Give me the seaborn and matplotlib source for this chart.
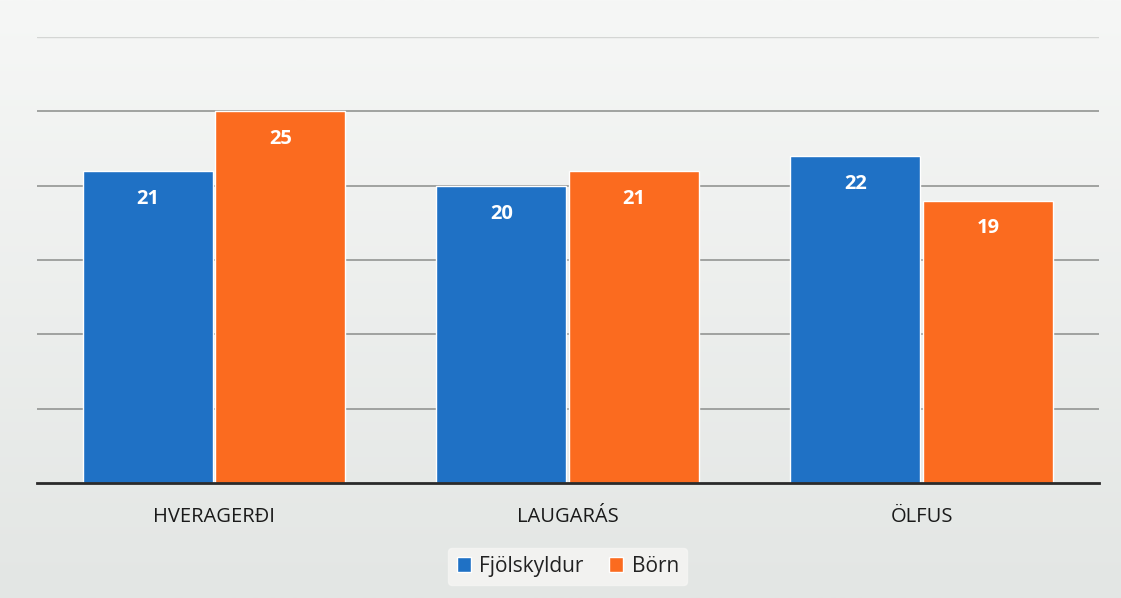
import matplotlib
matplotlib.use("Agg")
import matplotlib.pyplot as plt
import seaborn as sns
import pandas as pd
import numpy as np
from matplotlib.colors import LinearSegmentedColormap

categories = ["HVERAGERÐI", "LAUGARÁS", "ÖLFUS"]
series_names = ["Fjölskyldur", "Börn"]
fjolskyldur = [21, 20, 22]
born = [25, 21, 19]
colors = ["#1f71c5", "#fb6b1f"]

df = pd.DataFrame({
    "Svæði": categories * 2,
    "Hópur": [series_names[0]] * 3 + [series_names[1]] * 3,
    "Fjöldi": fjolskyldur + born,
})

sns.set_theme(style="white")
plt.rcParams["font.family"] = ["Open Sans", "DejaVu Sans"]

fig = plt.figure(figsize=(11.21, 5.98), dpi=100, facecolor="#eaedeb")
ax = fig.add_axes([0.033, 0.192, 0.947, 0.746])
ax.set_facecolor("none")

# subtle background gradient (lighter at top)
bg = fig.add_axes([0, 0, 1, 1], zorder=-10)
grad = np.linspace(1, 0, 256).reshape(-1, 1)
cmap = LinearSegmentedColormap.from_list("bg", ["#e3e6e4", "#f6f7f6"])
bg.imshow(grad, aspect="auto", cmap=cmap, extent=[0, 1, 0, 1])
bg.axis("off")

sns.barplot(data=df, x="Svæði", y="Fjöldi", hue="Hópur", palette=colors,
            width=0.75, gap=0.02, ax=ax, saturation=1, legend=True)

ax.set_ylim(0, 30)
ax.set_xlim(-0.5, 2.5)
ax.set_yticks([5, 10, 15, 20, 25])
ax.yaxis.grid(True, color="#9a9c9a", linewidth=1.3)
ax.axhline(30, color="#d4d6d4", linewidth=1.0, zorder=0)
ax.set_axisbelow(True)
ax.tick_params(axis="y", left=False, labelleft=False)
ax.tick_params(axis="x", bottom=False, labelsize=14.5, pad=11, colors="#1a1a1a")
for s in ["top", "right", "left"]:
    ax.spines[s].set_visible(False)
ax.spines["bottom"].set_color("#2a2a2a")
ax.spines["bottom"].set_linewidth(2)
ax.set_xlabel("")
ax.set_ylabel("")

for cont in ax.containers:
    for bar in cont:
        h = bar.get_height()
        ax.annotate(f"{int(h)}", (bar.get_x() + bar.get_width() / 2, h),
                    xytext=(0, -20), textcoords="offset points",
                    ha="center", va="center", color="white",
                    fontsize=14.5, fontweight="bold")

leg = ax.legend(loc="center", bbox_to_anchor=(0.5, -0.1865), ncol=2,
                frameon=True, fontsize=15, handlelength=0.7, handleheight=0.7,
                handletextpad=0.4, columnspacing=1.2, borderpad=0.4)
leg.get_frame().set_facecolor("#f6f6f4")
leg.get_frame().set_edgecolor("#f6f6f4")
for t in leg.get_texts():
    t.set_color("#222222")

fig.savefig("out.png", dpi=100, facecolor=fig.get_facecolor())
